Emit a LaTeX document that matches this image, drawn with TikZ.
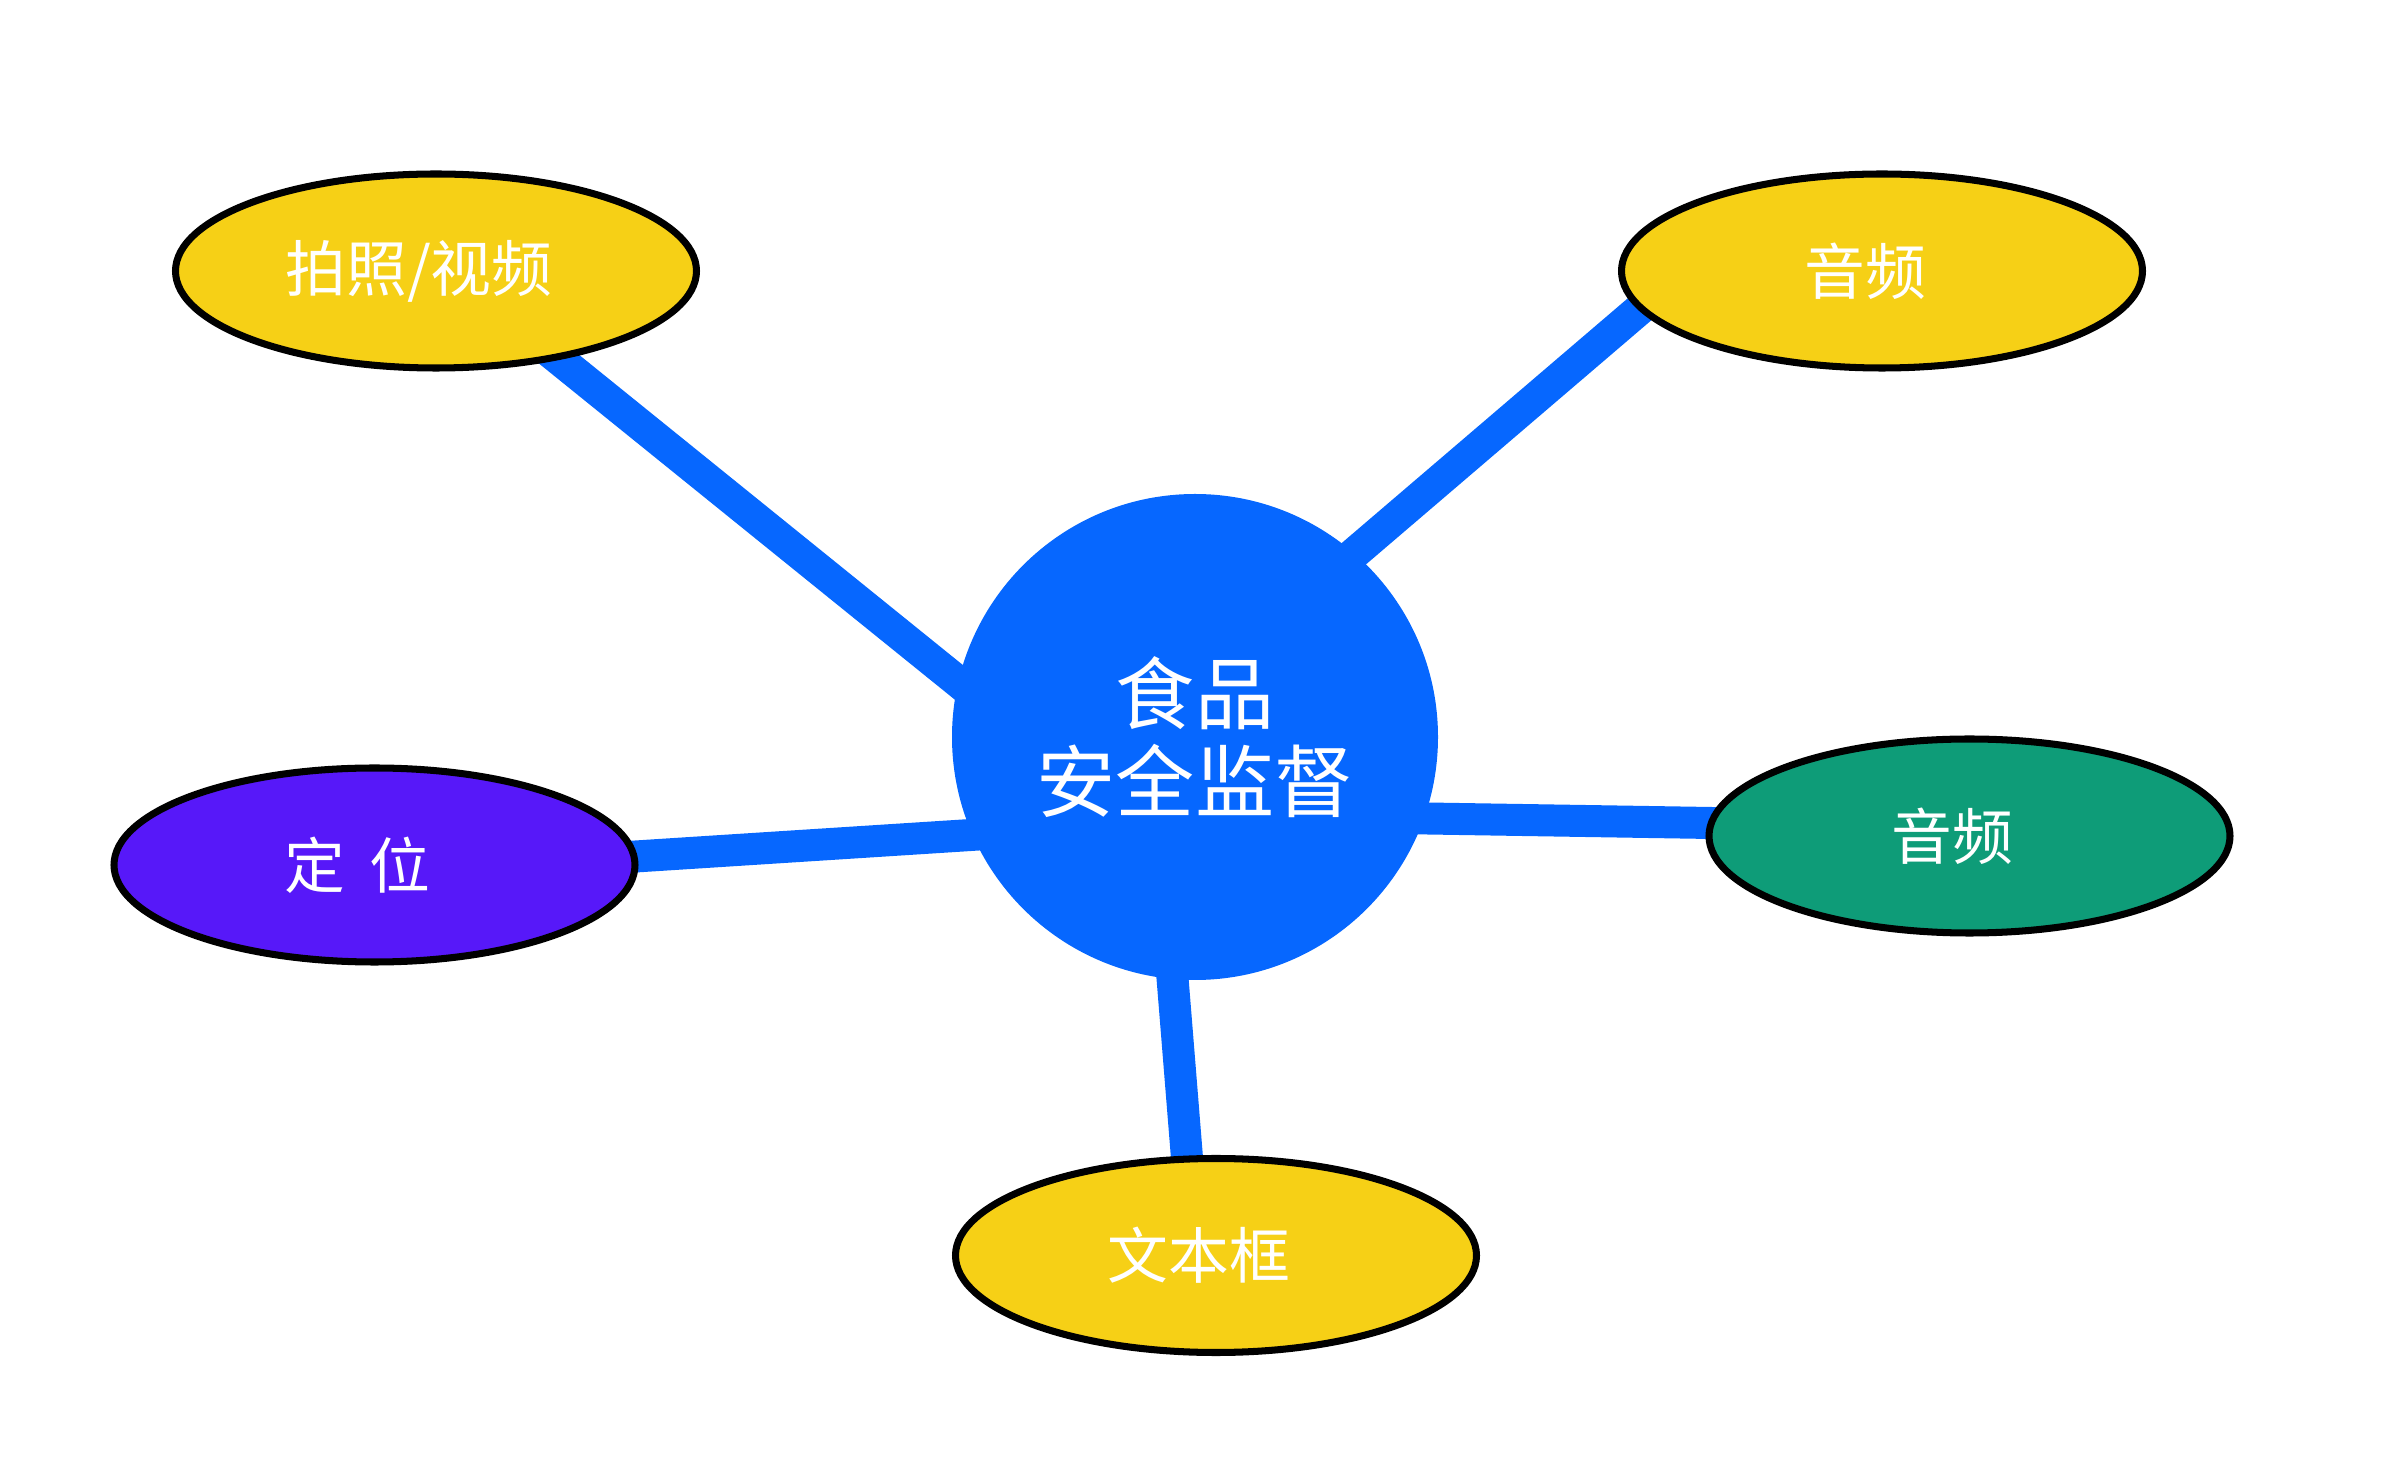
\documentclass[tikz,border=0pt]{standalone}
\usepackage{fontspec}
\newfontfamily\cjk{Noto Sans CJK SC}
\usepackage{tikz}
\usetikzlibrary{shapes.geometric,backgrounds}

\definecolor{hubblue}{HTML}{0667FF}
\definecolor{topicyellow}{HTML}{F6D016}
\definecolor{topicpurple}{HTML}{5718F9}
\definecolor{topicgreen}{HTML}{0E9C78}

\begin{document}
\begin{tikzpicture}[
  bubble/.style={ellipse, draw=black, line width=2pt, minimum width=5.21cm,
    minimum height=1.94cm, text=white, font=\cjk\fontsize{17.3}{20}\selectfont,
    execute at end node={\hspace{0.34cm}}},
  link/.style={line width=0.32cm, draw=hubblue}
]

% Page size
\useasboundingbox (0,0) rectangle (23.92,-14.76);

% Hub
\node[circle, fill=hubblue, minimum size=4.86cm, text=white, align=center,
  font=\cjk\fontsize{22.5}{25}\selectfont] (hub) at (11.95,-7.37) {食品\\安全监督};

% Topics
\node[bubble, fill=topicyellow] (photo) at (4.36,-2.71) {拍照/视频};
\node[bubble, fill=topicyellow] (audio) at (18.82,-2.71) {音频};
\node[bubble, fill=topicpurple] (locate) at (3.745,-8.65) {定\hspace{0.4em}位};
\node[bubble, fill=topicgreen] (sound) at (19.695,-8.36) {音频};
\node[bubble, fill=topicyellow] (textbox) at (12.16,-12.555) {文本框};

% Links (behind the shapes)
\begin{pgfonlayer}{background}
\draw[link] ([shift={(-1.45,-0.19)}]hub.center) -- ([shift={(0.64,-0.405)}]photo.center);
\draw[link] ([shift={(0.65,1.03)}]hub.center) -- ([shift={(-1.62,0.305)}]audio.center);
\draw[link] ([shift={(-1.15,-0.91)}]hub.center) -- ([shift={(0.755,-0.034)}]locate.center);
\draw[link] ([shift={(1.25,-0.798)}]hub.center) -- ([shift={(-1.695,0.116)}]sound.center);
\draw[link] ([shift={(-0.304,-1.43)}]hub.center) -- ([shift={(-0.24,0.355)}]textbox.center);
\end{pgfonlayer}

\end{tikzpicture}
\end{document}
